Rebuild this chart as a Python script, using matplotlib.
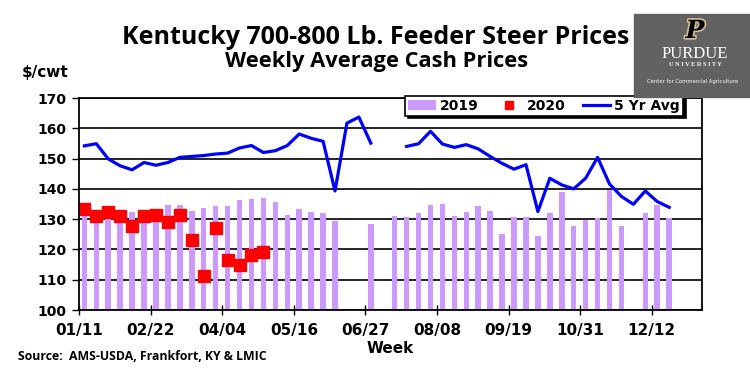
import matplotlib
matplotlib.use("Agg")
import matplotlib.pyplot as plt
import matplotlib.patches as patches
import matplotlib.patheffects as pe
import numpy as np

nan = np.nan

# weekly data, week 0 = first week of the year
prices_2019 = [131.5, 130.5, 131.0, 130.5, 132.5, 132.0, 132.5, 134.7, 134.7, 132.7,
               133.8, 134.2, 134.2, 136.2, 136.6, 136.9, 135.8, 131.4, 133.4, 132.3,
               132.0, 129.5, nan, nan, 128.3, nan, 131.1, 130.6, 131.9, 134.7,
               135.1, 131.1, 132.3, 134.3, 132.7, 125.2, 130.6, 130.6, 124.5, 131.9,
               138.9, 127.9, 129.6, 130.3, 139.7, 127.9, nan, 131.9, 134.7, 130.3]
prices_2020 = [133.4, 131.1, 132.2, 131.1, 127.9, 131.1, 131.4, 128.9, 131.4, 123.1,
               111.3, 127.2, 116.5, 114.9, 118.2, 119.0]
avg_5yr = [154.2, 154.9, 149.9, 147.6, 146.3, 148.7, 147.8, 148.7, 150.4, 150.7,
           151.0, 151.5, 151.8, 153.5, 154.3, 152.0, 152.6, 154.3, 158.1, 156.7,
           155.7, 139.3, 161.7, 163.7, 155.1, nan, nan, 154.0, 154.9, 159.0,
           154.8, 153.7, 154.6, 153.2, 150.7, 148.4, 146.5, 148.0, 132.5, 143.5,
           141.3, 140.0, 143.5, 150.4, 141.6, 137.5, 134.9, 139.3, 135.8, 133.9]
tick_labels = ["01/11", "02/22", "04/04", "05/16", "06/27", "08/08", "09/19", "10/31", "12/12"]

W, H = 750, 374
fig = plt.figure(figsize=(W / 100, H / 100), dpi=100)
ax = fig.add_axes([79 / W, 1 - 310 / H, 623 / W, 212 / H])

x19 = np.arange(len(prices_2019)) + 0.45
y19 = np.array(prices_2019)
ok = ~np.isnan(y19)
b19 = ax.bar(x19[ok], y19[ok] - 100, bottom=100, width=0.46, color="#cc99ff",
             label="2019", zorder=3)

x20 = np.arange(len(prices_2020)) + 0.45
m20, = ax.plot(x20, prices_2020, linestyle="none", marker="s", markersize=8,
               color="#ff0000", label="2020", zorder=5)

xa = np.arange(len(avg_5yr)) + 0.45
l5, = ax.plot(xa, avg_5yr, color="#0000ff", lw=2.3, label="5 Yr Avg", zorder=4)

ax.set_xlim(0, 52.2)
ax.set_ylim(100, 170)
ax.set_yticks(np.arange(100, 171, 10))
ax.set_xticks(np.arange(0, 49, 6))
ax.set_xticklabels(tick_labels)
ax.yaxis.grid(True, color="black", lw=1.2, zorder=1)
ax.set_axisbelow(True)
for s in ax.spines.values():
    s.set_linewidth(1.3)
    s.set_zorder(6)
ax.tick_params(axis="x", direction="inout", length=7, width=1, pad=6)
ax.tick_params(axis="y", direction="out", length=5, width=1, pad=4)
for lab in ax.get_xticklabels():
    lab.set_fontweight("bold")
    lab.set_fontsize(11)
for lab in ax.get_yticklabels():
    lab.set_fontweight("bold")
    lab.set_fontsize(10)
ax.set_xlabel("Week", fontsize=11, fontweight="bold", labelpad=2)

leg = ax.legend([b19, m20, l5], ["2019", "2020", "5 Yr Avg"],
                loc="upper left", bbox_to_anchor=(405 / W, 1 - 96 / H),
                bbox_transform=fig.transFigure, ncol=3, frameon=True,
                fancybox=False, shadow={"color": "black", "alpha": 1},
                borderaxespad=0, prop={"weight": "bold", "size": 10},
                handlelength=2.0, handletextpad=0.3, columnspacing=1.2,
                borderpad=0.2, markerscale=0.7)
leg.get_frame().set_edgecolor("black")
leg.get_frame().set_linewidth(1.2)
leg.set_zorder(10)

tf = "Open Sans"
renderer = fig.canvas.get_renderer()


def fit_text(x, y, s, width_px, size, **kw):
    t = fig.text(x, y, s, family=tf, weight="bold", size=size, **kw)
    w = t.get_window_extent(renderer).width
    t.set_fontsize(size * width_px / w)
    return t


fit_text(376 / W, 1 - 37 / H, "Kentucky 700-800 Lb. Feeder Steer Prices", 507, 18,
         ha="center", va="center")
fit_text(377 / W, 1 - 62 / H, "Weekly Average Cash Prices", 305, 14,
         ha="center", va="center")
fig.text(22 / W, 1 - 72 / H, "$/cwt", weight="bold", size=11, ha="left", va="center")
fit_text(18 / W, 1 - 357 / H, "Source:  AMS-USDA, Frankfort, KY & LMIC", 250, 8,
         ha="left", va="center")

# Purdue logo block
fig.patches.append(patches.Rectangle((634 / W, 1 - 97 / H), 116 / W, 83 / H,
                                     transform=fig.transFigure, color="#626262",
                                     zorder=0))
fig.text(695 / W, 1 - 31 / H, "P", family="DejaVu Serif", weight="bold", style="italic",
         size=18, color="black", ha="center", va="center",
         path_effects=[pe.withStroke(linewidth=2.5, foreground="#cfb991")])
fig.text(695 / W, 1 - 54 / H, "PURDUE", family="Liberation Serif", size=12,
         color="white", ha="center", va="center")
fig.text(695 / W, 1 - 65 / H, "U N I V E R S I T Y", family="Liberation Serif",
         weight="bold", size=4.5, color="white", ha="center", va="center")
fig.text(693 / W, 1 - 81 / H, "Center for Commercial Agriculture",
         family="DejaVu Sans", size=3.8, color="white", ha="center", va="center")

fig.savefig("out.png", dpi=100)
